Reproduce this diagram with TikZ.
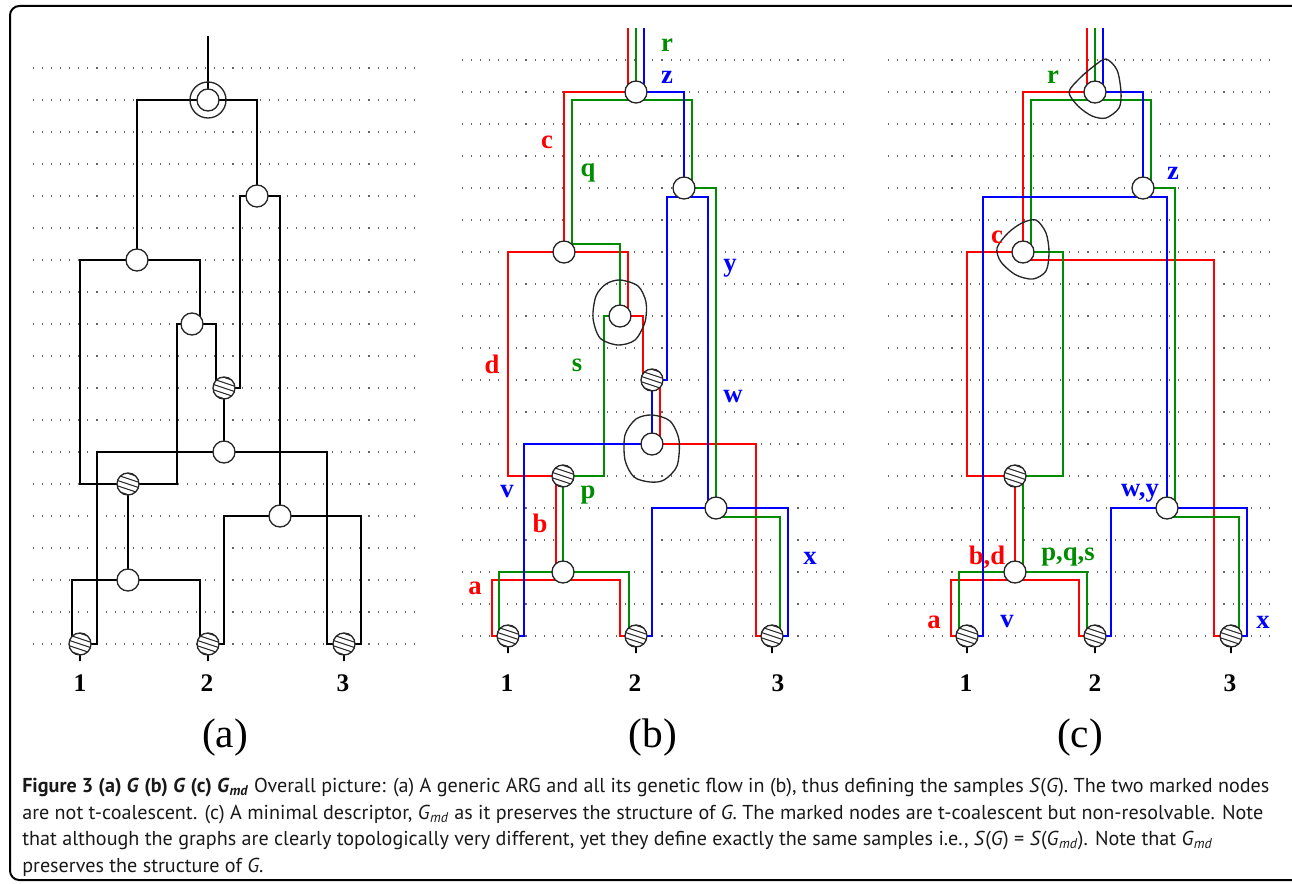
\documentclass[tikz,border=0pt]{standalone}
\usepackage{fontspec}
\setmainfont{Liberation Serif}
\newfontfamily\capfont{PT Sans}
\usetikzlibrary{calc,backgrounds}
\definecolor{flowr}{RGB}{255,0,0}
\definecolor{flowg}{RGB}{0,140,0}
\definecolor{flowb}{RGB}{0,0,255}
\tikzset{
  vtx/.style={circle,draw=black!85,fill=white,line width=1pt,minimum size=16.5pt,inner sep=0pt},
  hatched/.style={vtx,path picture={
    \foreach \k in {-8,-4,0,4,8}
      \draw[line width=0.8pt] ($(path picture bounding box.center)+(-9pt,{\k pt+3pt})$) -- ++(18pt,-6pt);}},
  ring/.style={circle,draw=black!85,line width=1pt,minimum size=27pt,inner sep=0pt},
  blob/.style={draw=black!85,line width=1pt},
  guide/.style={draw=black!60,line width=0.8pt,dash pattern=on 0.8pt off 6pt},
  tree/.style={line width=1.4pt},
  rline/.style={draw=flowr,line width=1.2pt},
  gline/.style={draw=flowg,line width=1.2pt},
  bline/.style={draw=flowb,line width=1.2pt},
  lbl/.style={font=\bfseries\fontsize{20}{20}\selectfont,inner sep=0pt},
  leafno/.style={font=\bfseries\fontsize{19}{19}\selectfont,inner sep=0pt},
  panel/.style={font=\fontsize{31}{31}\selectfont,inner sep=0pt},
  captext/.style={font=\capfont\fontsize{15.1}{18}\selectfont,text=black!90,inner sep=0pt,anchor=base west}
}

\begin{document}
\begin{tikzpicture}[x=0.75pt, y=-0.75pt, line cap=round]

\useasboundingbox (0,0) rectangle (1292,884) ;
\draw[line width=1.5pt,rounded corners=7pt] (10,6) rectangle (1304,880) ;

\node[vtx] (a0) at (208,100) {};
\node[ring] (a0r) at (a0) {};
\node[vtx] (a1) at (257,196) {};
\node[vtx] (a2) at (137,260) {};
\node[vtx] (a3) at (192,324) {};
\node[hatched] (a4) at (224,388) {};
\node[vtx] (a5) at (224,452) {};
\node[hatched] (a6) at (128,484) {};
\node[vtx] (a7) at (280,516) {};
\node[vtx] (a8) at (128,580) {};
\node[hatched] (a9) at (80,644) {};
\node[hatched] (a10) at (208,644) {};
\node[hatched] (a11) at (344,644) {};
\coordinate (atop) at (208,36) ;

\node[vtx] (b0) at (636,92) {};
\node[vtx] (b1) at (684,188) {};
\node[vtx] (b2) at (564,252) {};
\node[vtx] (b3) at (620,316) {};
\node[hatched] (b4) at (652,380) {};
\node[vtx] (b5) at (652,444) {};
\node[hatched] (b6) at (563,476) {};
\node[vtx] (b7) at (716,508) {};
\node[vtx] (b8) at (563,572) {};
\node[hatched] (b9) at (508,636) {};
\node[hatched] (b10) at (636,636) {};
\node[hatched] (b11) at (772,636) {};
\coordinate (btop) at (636,28) ;

\node[vtx] (c0) at (1095,92) {};
\node[vtx] (c1) at (1143,188) {};
\node[vtx] (c2) at (1023,252) {};
\node[hatched] (c3) at (1015,476) {};
\node[vtx] (c4) at (1167,508) {};
\node[vtx] (c5) at (1015,572) {};
\node[hatched] (c6) at (967,636) {};
\node[hatched] (c7) at (1095,636) {};
\node[hatched] (c8) at (1231,636) {};
\coordinate (ctop) at (1095,28) ;

\begin{scope}[on background layer]
\foreach \i in {0,...,18} {
  \draw[guide] (33,{68+32*\i}) -- (417,{68+32*\i}) ;
  \draw[guide] (462,{60+32*\i}) -- (845,{60+32*\i}) ;
  \draw[guide] (888,{60+32*\i}) -- (1272,{60+32*\i}) ;
}

\draw[tree] (atop) -- (a0.center) ;
\draw[tree] (a0.center) -| (a2.center) ;
\draw[tree] (a0.center) -| (a1.center) ;
\draw[tree] (a1.center) -| (240,388) -- (a4.center) ;
\draw[tree] (a1.center) -| (a7.center) ;
\draw[tree] (a2.center) -| (80,484) -- (a6.center) ;
\draw[tree] (a2.center) -| (200,324) -- (a3.center) ;
\draw[tree] (a3.center) -| (177,484) -- (a6.center) ;
\draw[tree] (a3.center) -| (216,388) -- (a4.center) ;
\draw[tree] (a4.center) -- (a5.center) ;
\draw[tree] (a5.center) -| (97,644) -- (a9.center) ;
\draw[tree] (a5.center) -| (327,644) -- (a11.center) ;
\draw[tree] (a6.center) -- (a8.center) ;
\draw[tree] (a7.center) -| (224,644) -- (a10.center) ;
\draw[tree] (a7.center) -| (361,644) -- (a11.center) ;
\draw[tree] (a8.center) -| (72,644) -- (a9.center) ;
\draw[tree] (a8.center) -| (200,644) -- (a10.center) ;

\draw[rline] ($(btop)+(-8,0)$) |- (b0.center) ;
\draw[rline] (b0.center) -| (b2.center) ;
\draw[rline] (b2.center) -| (508,476) -- (b6.center) ;
\draw[rline] (b2.center) -| (628,316) -- (b3.center) ;
\draw[rline] (b3.center) -| (643,380) -- (b4.center) ;
\draw[rline] ($(b4)+(8,0)$) -- ($(b5)+(8,0)$) ;
\draw[rline] (b5.center) -| (756,636) -- (b11.center) ;
\draw[rline] ($(b6)+(-7,0)$) -- ($(b8)+(-7,0)$) ;
\draw[rline] ($(b8)+(0,8)$) -| (492,636) -- (b9.center) ;
\draw[rline] ($(b8)+(0,8)$) -| (620,636) -- (b10.center) ;

\draw[gline] (btop) -- (b0.center) ;
\draw[gline] ($(b0)+(0,8)$) -| (572,244) -| (b3.center) ;
\draw[gline] ($(b0)+(0,8)$) -| ($(b1)+(8,0)$) ;
\draw[gline] (b1.center) -| (b7.center) ;
\draw[gline] (b3.center) -| (604,476) -- (b6.center) ;
\draw[gline] (b6.center) -- (b8.center) ;
\draw[gline] (b8.center) -| (499,636) -- (b9.center) ;
\draw[gline] (b8.center) -| (629,636) -- (b10.center) ;
\draw[gline] ($(b7)+(0,9)$) -| (780,636) -- (b11.center) ;

\draw[bline] ($(btop)+(8,0)$) |- (b0.center) ;
\draw[bline] (b0.center) -| (b1.center) ;
\draw[bline] ($(b1)+(0,9)$) -| (667,380) -- (b4.center) ;
\draw[bline] ($(b1)+(0,9)$) -| (708,508) -- (b7.center) ;
\draw[bline] (b4.center) -- (b5.center) ;
\draw[bline] (b5.center) -| (524,636) -- (b9.center) ;
\draw[bline] (b7.center) -| (652,636) -- (b10.center) ;
\draw[bline] (b7.center) -| (788,636) -- (b11.center) ;

\draw[rline] ($(ctop)+(-8,0)$) |- (c0.center) ;
\draw[rline] (c0.center) -| (c2.center) ;
\draw[rline] (c2.center) -| (967,476) -- (c3.center) ;
\draw[rline] ($(c2)+(0,8)$) -| (1214,636) -- (c8.center) ;
\draw[rline] (c3.center) -- (c5.center) ;
\draw[rline] ($(c5)+(0,8)$) -| (951,636) -- (c6.center) ;
\draw[rline] ($(c5)+(0,8)$) -| (1079,636) -- (c7.center) ;

\draw[gline] (ctop) -- (c0.center) ;
\draw[gline] ($(c0)+(0,8)$) -| ($(c2)+(8,0)$) ;
\draw[gline] ($(c0)+(0,8)$) -| ($(c1)+(8,0)$) ;
\draw[gline] (c1.center) -| (1175,508) -- (c4.center) ;
\draw[gline] (c2.center) -| (1063,476) -- (c3.center) ;
\draw[gline] ($(c3)+(8,0)$) -- ($(c5)+(8,0)$) ;
\draw[gline] (c5.center) -| (959,636) -- (c6.center) ;
\draw[gline] (c5.center) -| (1087,636) -- (c7.center) ;
\draw[gline] ($(c4)+(0,9)$) -| (1239,636) -- (c8.center) ;

\draw[bline] ($(ctop)+(8,0)$) |- (c0.center) ;
\draw[bline] (c0.center) -| (c1.center) ;
\draw[bline] ($(c1)+(0,9)$) -| (983,636) -- (c6.center) ;
\draw[bline] ($(c1)+(0,9)$) -| (c4.center) ;
\draw[bline] (c4.center) -| (1111,636) -- (c7.center) ;
\draw[bline] (c4.center) -| (1247,636) -- (c8.center) ;
\end{scope}

\foreach \n in {a9,a10,a11,b9,b10,b11,c6,c7,c8}
  \draw[line width=1pt] (\n.south) -- ++(0,5) ;

\draw[blob] plot[smooth cycle] coordinates {(620,280) (638,286) (646,302) (645,322) (635,340) (618,345) (600,338) (593,318) (596,296) (606,284)} ;
\draw[blob] plot[smooth cycle] coordinates {(652,415) (670,421) (679,440) (677,466) (664,480) (650,482) (634,477) (625,460) (625,435) (636,419)} ;
\draw[blob] plot[smooth cycle] coordinates {(1106,59) (1117,70) (1121,92) (1119,108) (1106,118) (1092,116) (1078,106) (1069,92) (1080,78) (1094,66)} ;
\draw[blob] plot[smooth cycle] coordinates {(1036,220) (1046,233) (1049,252) (1046,271) (1033,279) (1016,275) (1001,262) (997,248) (1008,233) (1022,223)} ;

\node[leafno] (na1) at (80,683) {1};
\node[leafno] (na2) at (207,683) {2};
\node[leafno] (na3) at (343,683) {3};
\node[leafno] (nb1) at (507,683) {1};
\node[leafno] (nb2) at (635,683) {2};
\node[leafno] (nb3) at (778,683) {3};
\node[leafno] (nc1) at (966,683) {1};
\node[leafno] (nc2) at (1095,683) {2};
\node[leafno] (nc3) at (1230,683) {3};

\node[panel] (pa) at (225,738) {(a)};
\node[panel] (pb) at (653,738) {(b)};
\node[panel] (pc) at (1080,738) {(c)};

\node[lbl,text=flowg] (lbr) at (667,45) {r};
\node[lbl,text=flowb] (lbz) at (667,77) {z};
\node[lbl,text=flowr] (lbc) at (547,142) {c};
\node[lbl,text=flowg] (lbq) at (588,173) {q};
\node[lbl,text=flowb] (lby) at (730,268) {y};
\node[lbl,text=flowr] (lbd) at (492,364) {d};
\node[lbl,text=flowg] (lbs) at (577,365) {s};
\node[lbl,text=flowb] (lbw) at (733,397) {w};
\node[lbl,text=flowb] (lbv) at (507,492) {v};
\node[lbl,text=flowg] (lbp) at (588,495) {p};
\node[lbl,text=flowr] (lbb) at (540,523) {b};
\node[lbl,text=flowb] (lbx) at (810,558) {x};
\node[lbl,text=flowr] (lba) at (475,588) {a};

\node[lbl,text=flowg] (lcr) at (1053,77) {r};
\node[lbl,text=flowb] (lcz) at (1173,173) {z};
\node[lbl,text=flowr] (lcc) at (997,237) {c};
\node[lbl,text=flowb] (lcwy) at (1140,493) {w,y};
\node[lbl,text=flowr] (lcbd) at (987,557) {b,d};
\node[lbl,text=flowg] (lcpqs) at (1068,557) {p,q,s};
\node[lbl,text=flowr] (lca) at (934,622) {a};
\node[lbl,text=flowb] (lcv) at (1007,622) {v};
\node[lbl,text=flowb] (lcx) at (1263,622) {x};

\node[captext] (cap1) at (22,792) {\textbf{Figure 3 (a) \textit{G} (b) \textit{G} (c) \textit{G}\textsubscript{\textit{md}}} Overall picture: (a) A generic ARG and all its genetic flow in (b), thus defining the samples \textit{S}(\textit{G}). The two marked nodes};
\node[captext] (cap2) at (22,819) {are not t-coalescent. (c) A minimal descriptor, \textit{G}\textsubscript{\textit{md}} as it preserves the structure of \textit{G}. The marked nodes are t-coalescent but non-resolvable. Note};
\node[captext] (cap3) at (22,845) {that although the graphs are clearly topologically very different, yet they define exactly the same samples i.e., \textit{S}(\textit{G}) = \textit{S}(\textit{G}\textsubscript{\textit{md}}). Note that \textit{G}\textsubscript{\textit{md}}};
\node[captext] (cap4) at (22,872) {preserves the structure of \textit{G}.};

\end{tikzpicture}
\end{document}
